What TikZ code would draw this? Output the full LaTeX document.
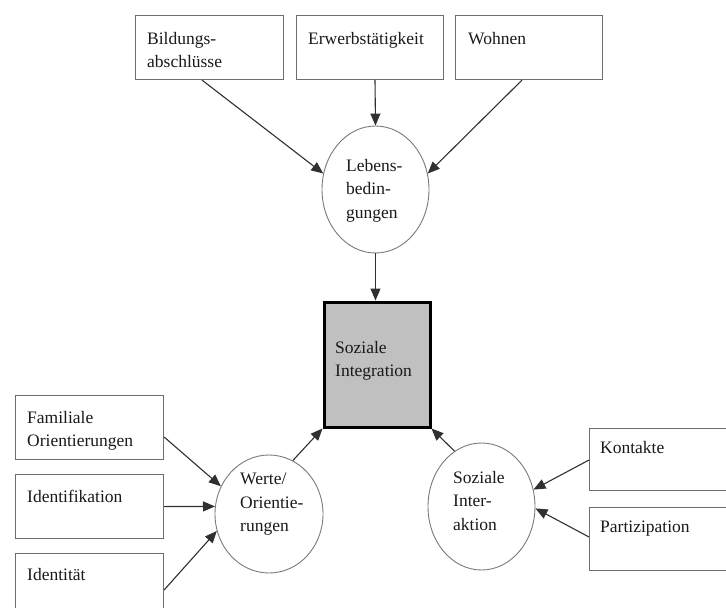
\documentclass[tikz,border=0pt]{standalone}
\usepackage{fontspec}
\setmainfont{Liberation Serif}
\newfontfamily\diagfont{Liberation Serif}
\usetikzlibrary{calc,arrows.meta,shapes.geometric}
\definecolor{boxline}{HTML}{6E6E6E}
\definecolor{ellline}{HTML}{7A7A7A}
\definecolor{arrline}{HTML}{303030}
\definecolor{txtcol}{HTML}{1A1A1A}
\definecolor{centerfill}{HTML}{C0C0C0}
\begin{document}
\begin{tikzpicture}[x=1pt,y=-1pt,
  infobox/.style={draw=boxline,line width=1.1pt,rectangle,inner sep=0pt,anchor=north west},
  oval/.style={draw=ellline,line width=0.9pt,ellipse,inner sep=0pt},
  centerbox/.style={draw=black,line width=3pt,fill=centerfill,rectangle,inner sep=0pt,anchor=north west},
  lbl/.style={anchor=north west,inner sep=0pt,align=left,text=txtcol,font=\diagfont\fontsize{17.5}{23.5}\selectfont},
  arr/.style={draw=arrline,line width=1.1pt,-{Triangle[length=12pt,width=10pt]}}
]
\useasboundingbox (0,0) rectangle (726,608);
\clip (0,0) rectangle (726,608);
\fill[white] (0,0) rectangle (726,608);

% top boxes
\node[infobox,minimum width=148pt,minimum height=64pt] (b1) at (135,15) {};
\node[infobox,minimum width=147pt,minimum height=64pt] (b2) at (296,15) {};
\node[infobox,minimum width=147pt,minimum height=64pt] (b3) at (455,15) {};
\node[lbl] (t1) at (147,32) {Bildungs-\\abschlüsse};
\node[lbl] (t2) at (308,32) {Erwerbstätigkeit};
\node[lbl] (t3) at (468,32) {Wohnen};

% Lebensbedingungen
\node[oval,minimum width=107pt,minimum height=127pt] (le) at (375.5,189.5) {};
\node[lbl] (tle) at (346,159) {Lebens-\\bedin-\\gungen};

% center box
\node[centerbox,minimum width=106pt,minimum height=125pt] (ib) at (322.5,300.5) {};
\node[lbl] (tib) at (335,341) {Soziale\\Integration};

% left boxes
\node[infobox,minimum width=148pt,minimum height=64pt] (l1) at (15,395) {};
\node[infobox,minimum width=148pt,minimum height=64pt] (l2) at (15,474) {};
\node[infobox,minimum width=148pt,minimum height=64pt] (l3) at (15,553) {};
\node[lbl] (tl1) at (27,411) {Familiale\\Orientierungen};
\node[lbl] (tl2) at (27,490) {Identifikation};
\node[lbl] (tl3) at (27,568) {Identität};

% Werte ellipse
\node[oval,minimum width=108pt,minimum height=118pt] (we) at (269,514) {};
\node[lbl] (twe) at (240,473) {Werte/\\Orientie-\\rungen};

% Soziale Interaktion ellipse
\node[oval,minimum width=107pt,minimum height=127pt] (si) at (481.5,506.5) {};
\node[lbl] (tsi) at (453,471) {Soziale\\Inter-\\aktion};

% right boxes
\node[infobox,minimum width=150pt,minimum height=62pt] (r1) at (589,428) {};
\node[infobox,minimum width=150pt,minimum height=63pt] (r2) at (589,507) {};
\node[lbl] (tr1) at (600,441) {Kontakte};
\node[lbl] (tr2) at (600,521) {Partizipation};

% connectors
\draw[arr] ($(b1.south west)+(67,0)$) -- (le.163);
\draw[arr] ($(b2.south west)+(79,0)$) -- (le.north);
\draw[arr] ($(b3.south west)+(67,0)$) -- (le.17);
\draw[arr] (le.south) -- (le.south |- ib.north);

\draw[arr] ($(l1.north east)+(0,42)$) -- (we.150);
\draw[arr] (l2.east) -- (we.172);
\draw[arr] ($(l3.north east)+(0,37)$) -- (we.198);
\draw[arr] (we.66) -- (ib.south west);

\draw[arr] (si.116) -- (ib.south east);
\draw[arr] ($(r1.north west)+(0,32)$) -- (si.18);
\draw[arr] ($(r2.north west)+(0,30)$) -- (si.358);
\end{tikzpicture}
\end{document}
